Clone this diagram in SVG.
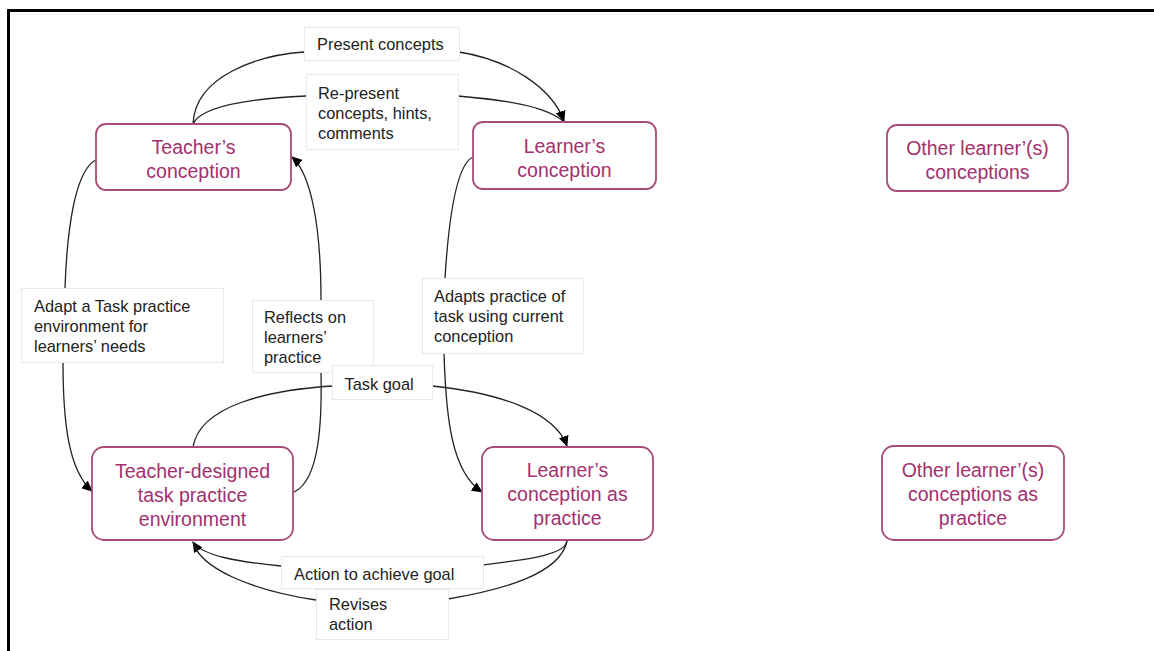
<svg xmlns="http://www.w3.org/2000/svg" width="1154" height="651" viewBox="0 0 1154 651">
<style>
.node rect{fill:#fff;stroke:#a64d79;stroke-width:1.8}
.node text{font-family:"Liberation Sans",Arial,sans-serif;font-size:19.5px;fill:#a3306e;text-anchor:middle}
.lbl rect{fill:#fff;stroke:#e9e9e9;stroke-width:1}
.lbl text{font-family:"Liberation Sans",Arial,sans-serif;font-size:16.4px;fill:#222}
.conn path{fill:none;stroke:#222;stroke-width:1.3}
</style>
<defs>
<marker id="arr" markerUnits="userSpaceOnUse" markerWidth="11" markerHeight="10" refX="10" refY="5" orient="auto">
<path d="M0,0 L11,5 L0,10 z" fill="#000"/>
</marker>
</defs>
<rect x="0" y="0" width="1154" height="651" fill="#fff"/>
<rect x="14.5" y="14.5" width="1160" height="660" fill="none" stroke="#f2f2f2" stroke-width="1"/>
<rect x="8.5" y="10.5" width="1160" height="660" fill="none" stroke="#000" stroke-width="3"/>

<g id="connectors" class="conn">
<!-- Present concepts -->
<path d="M193,124 C195,75 260,55 304,52"/>
<path d="M459,52 C510,60 552,88 564,121" marker-end="url(#arr)"/>
<!-- Re-present -->
<path d="M193,124 C200,108 240,99 306,96"/>
<path d="M458,96 C505,100 545,106 563,121"/>
<!-- Adapt a Task practice -->
<path d="M96,160 C75,170 67,230 65,288"/>
<path d="M63,362 C63,420 68,470 92,491" marker-end="url(#arr)"/>
<!-- Reflects on learners' practice -->
<path d="M294,492 C320,480 322,420 321,372"/>
<path d="M321,300 C321,230 312,175 292,157" marker-end="url(#arr)"/>
<!-- Adapts practice of task -->
<path d="M473,157 C455,165 448,230 445,278"/>
<path d="M444,353 C446,420 452,472 482,492" marker-end="url(#arr)"/>
<!-- Task goal -->
<path d="M193,447 C200,405 270,390 332,386"/>
<path d="M432,386 C500,393 555,412 567,446" marker-end="url(#arr)"/>
<!-- Action to achieve goal -->
<path d="M567,541 C565,556 520,560 483,565"/>
<path d="M281,566 C240,562 202,556 193,542" marker-end="url(#arr)"/>
<!-- Revises action -->
<path d="M567,541 C560,575 500,590 448,599"/>
<path d="M316,600 C250,590 200,568 193,542"/>
</g>

<g id="lbl-present" class="lbl"><rect x="304.5" y="27.5" width="155" height="33"/><text x="317" y="50">Present concepts</text></g>
<g id="lbl-represent" class="lbl"><rect x="306.5" y="74.5" width="152" height="75"/><text x="318" y="99">Re-present</text><text x="318" y="119">concepts, hints,</text><text x="318" y="139">comments</text></g>
<g id="lbl-adapt" class="lbl"><rect x="21.5" y="288.5" width="202" height="74"/><text x="34" y="312">Adapt a Task practice</text><text x="34" y="332">environment for</text><text x="34" y="352">learners’ needs</text></g>
<g id="lbl-reflects" class="lbl"><rect x="252.5" y="300.5" width="121" height="72"/><text x="264" y="323">Reflects on</text><text x="264" y="343">learners’</text><text x="264" y="363">practice</text></g>
<g id="lbl-adapts" class="lbl"><rect x="422.5" y="278.5" width="161" height="75"/><text x="434" y="302">Adapts practice of</text><text x="434" y="322">task using current</text><text x="434" y="342">conception</text></g>
<g id="lbl-goal" class="lbl"><rect x="332.5" y="365.5" width="100" height="34"/><text x="344.5" y="390">Task goal</text></g>
<g id="lbl-action" class="lbl"><rect x="281.5" y="556.5" width="202" height="32"/><text x="294" y="580">Action to achieve goal</text></g>
<g id="lbl-revises" class="lbl"><rect x="316.5" y="589.5" width="132" height="50"/><text x="329" y="610">Revises</text><text x="329" y="630">action</text></g>

<g id="teacher-conception" class="node"><rect x="96" y="124" width="195" height="66" rx="10"/><text x="193.5" y="154">Teacher’s</text><text x="193.5" y="178">conception</text></g>
<g id="learner-conception" class="node"><rect x="473" y="122" width="183" height="67" rx="10"/><text x="564.5" y="153">Learner’s</text><text x="564.5" y="177">conception</text></g>
<g id="other-conceptions" class="node"><rect x="887" y="125" width="181" height="66" rx="10"/><text x="977.5" y="155">Other learner’(s)</text><text x="977.5" y="179">conceptions</text></g>
<g id="teacher-task" class="node"><rect x="92" y="447" width="201" height="93" rx="12"/><text x="192.5" y="478">Teacher-designed</text><text x="192.5" y="502">task practice</text><text x="192.5" y="526">environment</text></g>
<g id="learner-practice" class="node"><rect x="482" y="447" width="171" height="93" rx="12"/><text x="567.5" y="477">Learner’s</text><text x="567.5" y="501">conception as</text><text x="567.5" y="525">practice</text></g>
<g id="other-practice" class="node"><rect x="882" y="446" width="182" height="94" rx="12"/><text x="973" y="477">Other learner’(s)</text><text x="973" y="501">conceptions as</text><text x="973" y="525">practice</text></g>
</svg>
